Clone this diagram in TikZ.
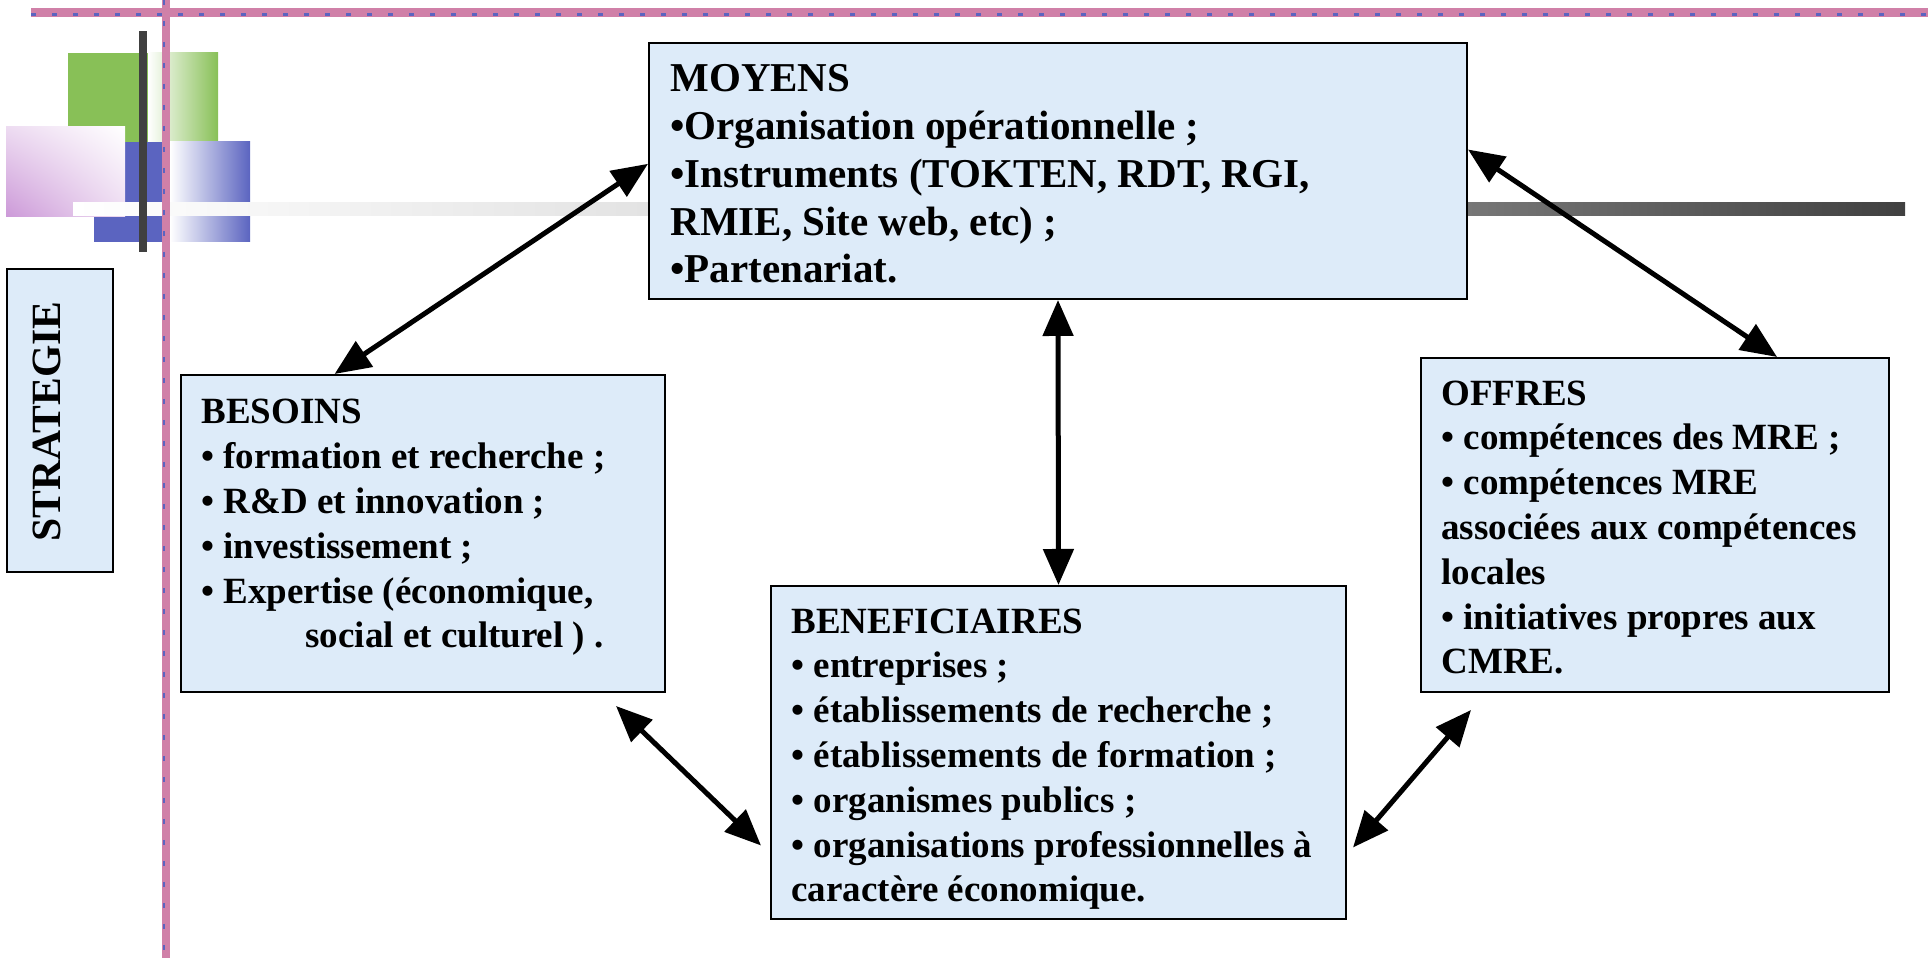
\documentclass[tikz,border=0pt]{standalone}
\usepackage{fontspec}
\setmainfont{Liberation Serif}
\usetikzlibrary{arrows.meta,shadings}
\definecolor{boxblue}{RGB}{221,235,249}
\definecolor{vert}{RGB}{136,192,87}
\definecolor{bleu}{RGB}{91,100,192}
\definecolor{mauve}{RGB}{204,153,216}
\definecolor{rose}{RGB}{208,128,168}
\definecolor{trait}{RGB}{64,64,64}
\tikzset{
  boite/.style={draw=black, line width=1pt, fill=boxblue, inner sep=0pt},
  texte/.style={align=left, inner sep=0pt, anchor=base west,
    font=\bfseries\fontsize{18.5}{22.4}\selectfont},
  fleche/.style={<->, line width=2.5pt, >={Triangle[length=18pt,width=15pt]}}
}
\begin{document}
\begin{tikzpicture}[x=0.5pt,y=0.5pt]
  \useasboundingbox (0,0) rectangle (1928,962);
  \fill[vert] (68,820) rectangle (148,909);
  \shade[left color=white, right color=vert] (148,820) rectangle (218,909);
  \fill[bleu] (94,720) rectangle (170,820);
  \shade[left color=white, right color=bleu] (170,720) rectangle (250,820);
  \shade[lower left=mauve, upper right=white, upper left=mauve!35, lower right=mauve!35]
    (6,745) rectangle (125,835);
  \shade[left color=white, right color=black!12] (73,746) rectangle (700,759);
  \shade[left color=black!50, right color=trait] (1400,746) rectangle (1905,759);
  \fill[trait] (139,710) rectangle (147,931);
  \draw[rose, line width=4.5pt] (31,949.5) -- (1928,949.5);
  \draw[bleu, line width=1.2pt, dash pattern=on 2.5pt off 8pt] (31,947.5) -- (1928,947.5);
  \draw[rose, line width=4pt] (166,962) -- (166,4);
  \draw[bleu, line width=1.2pt, dash pattern=on 2.5pt off 8pt] (164,962) -- (164,4);

  \node[boite, minimum width=53pt, minimum height=151.5pt] (strategie) at (60,541.5) {};
  \node[rotate=90, anchor=base, inner sep=0pt, font=\bfseries\fontsize{20.8}{24}\selectfont]
    (strategietxt) at (60,540.5) {STRATEGIE};

  \node[boite, minimum width=409pt, minimum height=128pt] (moyens) at (1058,791) {};
  \node[texte, font=\bfseries\fontsize{20.5}{23.9}\selectfont] (moyenstxt) at (670,679)
    {MOYENS\\•Organisation opérationnelle ;\\•Instruments (TOKTEN, RDT, RGI,\\RMIE, Site web, etc) ;\\•Partenariat.};

  \node[boite, minimum width=242pt, minimum height=158.5pt] (besoins) at (423,428.5) {};
  \node[texte] (besoinstxt) at (201,314)
    {BESOINS\\• formation et recherche ;\\• R\&D et innovation ;\\• investissement ;\\• Expertise (économique,\\\hspace*{52pt}social et culturel ) .};

  \node[boite, minimum width=287.5pt, minimum height=166.5pt] (benef) at (1058.5,209.5) {};
  \node[texte] (beneftxt) at (791,60)
    {BENEFICIAIRES\\• entreprises ;\\• établissements de recherche ;\\• établissements de formation ;\\• organismes publics ;\\• organisations professionnelles à\\caractère économique.};

  \node[boite, minimum width=234pt, minimum height=167pt] (offres) at (1655,437) {};
  \node[texte] (offrestxt) at (1441,288)
    {OFFRES\\• compétences des MRE ;\\• compétences MRE\\associées aux compétences\\locales\\• initiatives propres aux\\CMRE.};

  \begin{scope}[fleche]
    \draw (besoins.119) -- (moyens.179);
    \draw (moyens.3) -- (offres.54);
    \draw (moyens.south) -- (benef.north);
    \draw ([shift={(-50,-13)}]besoins.south east) -- ([shift={(-9,-93)}]benef.west);
    \draw ([shift={(51,-17)}]offres.south west) -- ([shift={(6,-95)}]benef.east);
  \end{scope}
\end{tikzpicture}
\end{document}
